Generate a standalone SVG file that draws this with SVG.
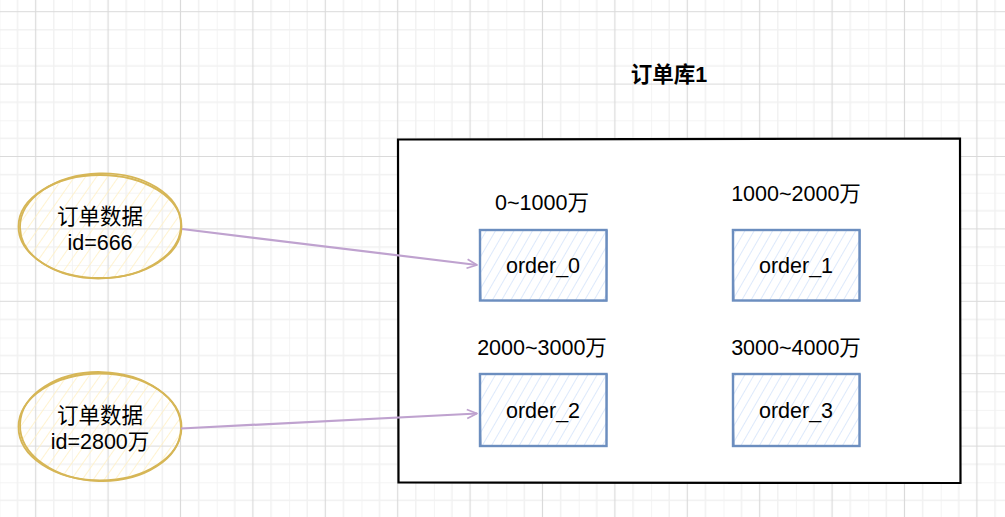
<svg xmlns="http://www.w3.org/2000/svg" width="1005" height="517" viewBox="0 0 1005 517">
<defs>
<pattern id="grid" patternUnits="userSpaceOnUse" x="-0.5" y="-24.5" width="72.4" height="72.4">
<path d="M0,0V72.4M18.1,0V72.4M54.3,0V72.4M0,0H72.4M0,18.1H72.4M0,54.3H72.4" stroke="#f1f1f1" stroke-width="1.5" fill="none"/>
<path d="M36.2,0V72.4M0,36.2H72.4" stroke="#dadada" stroke-width="1.2" fill="none"/>
</pattern>
<pattern id="hatchBlue" patternUnits="userSpaceOnUse" width="8" height="8" patternTransform="rotate(30)">
<line x1="0" y1="0" x2="0" y2="8" stroke="#d2e2fa" stroke-width="1.5"/>
</pattern>
<pattern id="hatchYellow" patternUnits="userSpaceOnUse" width="9" height="9" patternTransform="rotate(35)">
<line x1="0" y1="0" x2="0" y2="9" stroke="#fff0c4" stroke-width="1.6"/>
</pattern>
<marker id="openArrow" viewBox="0 0 12 12" refX="11" refY="6" markerWidth="12" markerHeight="12" markerUnits="userSpaceOnUse" orient="auto">
<path d="M1,1.5 L11,6 L1,10.5" fill="none" stroke="#bfa2cf" stroke-width="1.8" stroke-linejoin="round"/>
</marker>
<style>
text{font-family:"Liberation Sans","Noto Sans CJK SC",sans-serif;font-size:21.5px;fill:#000;text-anchor:middle}
.title{font-weight:bold}
.ell{fill:none;stroke:#d6b656;stroke-width:1.8}
.ellfill{fill:url(#hatchYellow);stroke:none}
.box{fill:url(#hatchBlue);stroke:#6c8ebf;stroke-width:2.4}
.box2{fill:none;stroke:#6c8ebf;stroke-width:1.2}
.conn{fill:none;stroke:#bfa2cf;stroke-width:2.2}
.cont{fill:#fff;stroke:#000;stroke-width:2.2}
</style>
</defs>
<rect width="1005" height="517" fill="#fff"/>
<rect width="1005" height="517" fill="url(#grid)"/>

<g id="container">
<path class="cont" d="M398,139.5 L960,138.5 L960.5,483 L398.5,482.5 Z"/>
</g>

<g id="title">
<text class="title" x="669" y="82">订单库1</text>
</g>

<g id="node-data1">
<ellipse class="ellfill" cx="100" cy="226.5" rx="81" ry="51"/>
<ellipse class="ell" cx="100" cy="226.5" rx="81.5" ry="51.5"/>
<ellipse class="ell" cx="100.5" cy="226" rx="80.5" ry="52.5" transform="rotate(-1.5 100 226)"/>
<text x="100" y="224">订单数据</text>
<text x="100" y="250">id=666</text>
</g>

<g id="node-data2">
<ellipse class="ellfill" cx="100" cy="427" rx="81" ry="53"/>
<ellipse class="ell" cx="100" cy="427" rx="81.5" ry="53.5"/>
<ellipse class="ell" cx="100.5" cy="426.5" rx="80.5" ry="54.5" transform="rotate(1.5 100 427)"/>
<text x="100" y="423">订单数据</text>
<text x="100" y="449">id=2800万</text>
</g>

<g id="label-0">
<text x="542" y="210">0~1000万</text>
</g>
<g id="label-1">
<text x="796" y="201">1000~2000万</text>
</g>
<g id="label-2">
<text x="542" y="355">2000~3000万</text>
</g>
<g id="label-3">
<text x="796" y="355">3000~4000万</text>
</g>

<g id="order_0">
<rect class="box" x="480" y="230" width="126.5" height="70.5"/>
<path class="box2" d="M479.5,229.5 L607,230.5 L606.5,301 L481,300.5 Z"/>
<text x="543" y="273">order_0</text>
</g>
<g id="order_1">
<rect class="box" x="733" y="230" width="126.5" height="70.5"/>
<path class="box2" d="M732.5,229.5 L860,230.5 L859.5,301 L734,300.5 Z"/>
<text x="796" y="273">order_1</text>
</g>
<g id="order_2">
<rect class="box" x="480" y="374" width="126.5" height="72"/>
<path class="box2" d="M479.5,373.5 L607,374.5 L606.5,446.5 L481,446 Z"/>
<text x="543" y="418">order_2</text>
</g>
<g id="order_3">
<rect class="box" x="733" y="374" width="126.5" height="72"/>
<path class="box2" d="M732.5,373.5 L860,374.5 L859.5,446.5 L734,446 Z"/>
<text x="796" y="418">order_3</text>
</g>

<g id="connectors">
<path class="conn" d="M182,229 L477,265" marker-end="url(#openArrow)"/>
<path class="conn" d="M181,428.5 L477,413.5" marker-end="url(#openArrow)"/>
</g>
</svg>
